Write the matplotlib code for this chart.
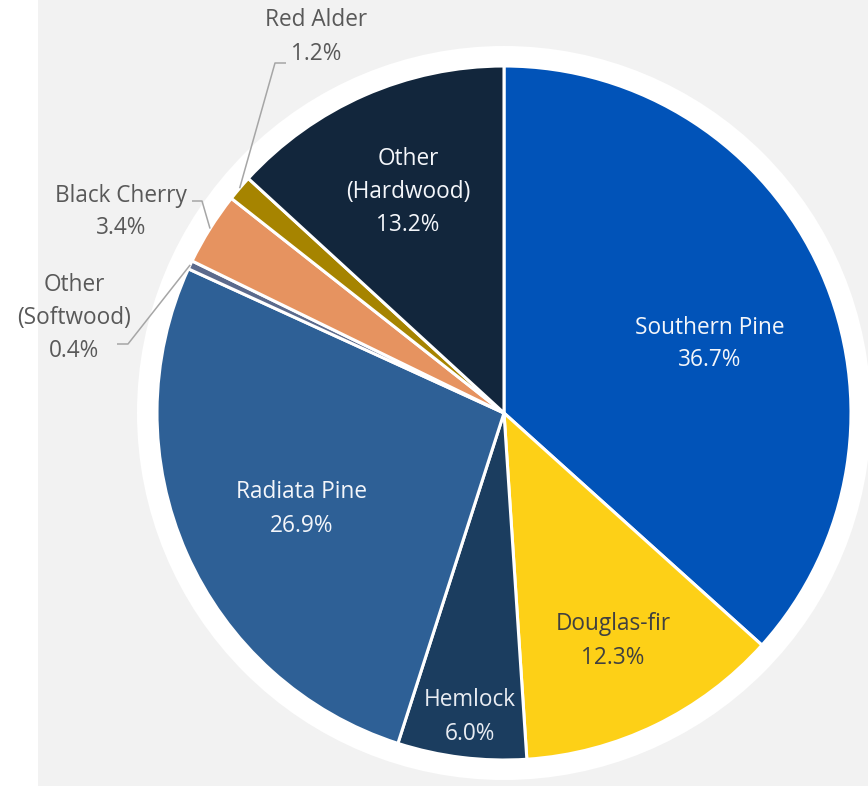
import matplotlib
matplotlib.use("Agg")
import matplotlib.pyplot as plt
from matplotlib.patches import Rectangle, Circle
import numpy as np

# Share of volume by species group (%)
species = ["Southern Pine", "Douglas-fir", "Hemlock", "Radiata Pine",
           "Other\n(Softwood)", "Black Cherry", "Red Alder", "Other\n(Hardwood)"]
shares = [36.7, 12.3, 6.0, 26.9, 0.4, 3.4, 1.2, 13.2]
colors = ["#0153b8", "#fdd017", "#1b3d5f", "#2e6096",
          "#5b6a8c", "#e69360", "#a68400", "#12263c"]

W, H = 868, 786
fig = plt.figure(figsize=(W / 100, H / 100), dpi=100, facecolor="white")
ax = fig.add_axes([0, 0, 1, 1])
ax.set_xlim(0, W)
ax.set_ylim(0, H)
ax.set_aspect("equal")
ax.axis("off")

# Chart area background and white halo behind the pie
ax.add_patch(Rectangle((38, 0), W - 38, H, facecolor="#f2f2f2", edgecolor="none", zorder=0))
cx, cy, r = 504, H - 413, 347
ax.add_patch(Circle((cx, cy), r + 20, facecolor="white", edgecolor="none", zorder=1))

wedges, _ = ax.pie(shares, colors=colors, startangle=90, counterclock=False,
                   center=(cx, cy), radius=r, frame=True,
                   wedgeprops=dict(edgecolor="white", linewidth=2.2, zorder=2))
ax.set_xlim(0, W)
ax.set_ylim(0, H)
ax.axis("off")

font = ["Open Sans", "DejaVu Sans"]
fs = 16.3
ls = 1.5
outside_color = "#595959"
dy = 3  # small downward nudge for all label blocks

def label(i):
    return f"{species[i]}\n{shares[i]:.1f}%"

# Labels inside the slices: (index, x, y, colour)
inside = [
    (0, 710, 341, "#f4f6fa"),
    (1, 613, 638, "#404040"),
    (2, 470, 714, "#e8ecf2"),
    (3, 302, 506, "#f4f6fa"),
    (7, 408, 189, "#f4f6fa"),
]
for i, x, y, c in inside:
    ax.text(x, H - y - dy, label(i), ha="center", va="center", color=c,
            fontsize=fs, family=font, linespacing=ls, zorder=5)

# Labels outside the pie with leader lines: (index, text x, text y, elbow, line end)
outside = [
    (6, 316, 34, (275, 63), (286, 63)),
    (5, 121, 209, (202, 201), (192, 201)),
    (4, 74, 315, (128, 344), (117, 344)),
]
for i, x, y, elbow, end in outside:
    ax.text(x, H - y - dy, label(i), ha="center", va="center", color=outside_color,
            fontsize=fs, family=font, linespacing=ls, zorder=5)
    w = wedges[i]
    theta = np.deg2rad((w.theta1 + w.theta2) / 2)
    px, py = cx + r * np.cos(theta), cy + r * np.sin(theta)
    ax.plot([px, elbow[0], end[0]], [py, H - elbow[1], H - end[1]],
            color="#a6a6a6", linewidth=1.1, zorder=4, solid_capstyle="butt")

fig.savefig("out.png", dpi=100, facecolor="white")
